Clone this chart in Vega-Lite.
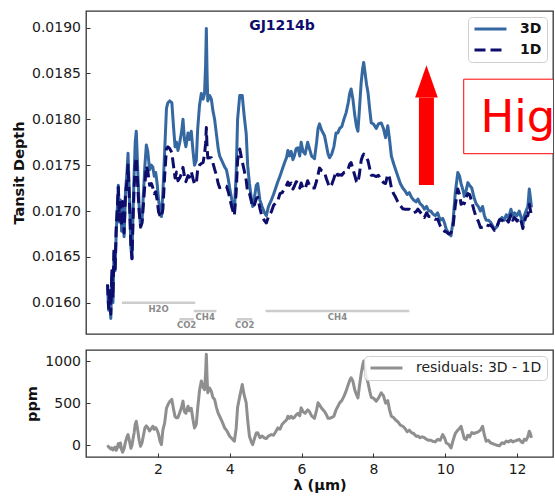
{
  "$schema": "https://vega.github.io/schema/vega-lite/v6.json",
  "background": "white",
  "padding": {"left": 10, "top": 10, "right": 0, "bottom": 4},
  "config": {
    "font": "DejaVu Sans",
    "view": {"stroke": "#333333", "strokeWidth": 1.3},
    "axis": {
      "domain": false,
      "grid": false,
      "ticks": true,
      "tickSize": -4,
      "tickWidth": 1,
      "tickColor": "#333333",
      "labelFont": "DejaVu Sans",
      "labelFontSize": 14,
      "labelColor": "#1a1a1a",
      "labelPadding": 9.5,
      "titleFont": "DejaVu Sans",
      "titleFontSize": 14.5,
      "titleFontWeight": "bold",
      "titleColor": "#111111",
      "titlePadding": 5
    },
    "legend": {
      "orient": "top-right",
      "offset": 6,
      "padding": 5,
      "fillColor": "rgba(255,255,255,0.85)",
      "strokeColor": "#cfcfcf",
      "cornerRadius": 4,
      "symbolType": "stroke",
      "symbolSize": 1024,
      "symbolStrokeWidth": 3,
      "labelOffset": 12,
      "labelFont": "DejaVu Sans",
      "labelFontSize": 14,
      "labelColor": "#111111",
      "clipHeight": 14,
      "rowPadding": 7,
      "title": null
    }
  },
  "datasets": {
    "spectra": [
      {"wl": 0.60, "td3d": 0.016200, "td1d": 0.016200, "res": 0},
      {"wl": 0.63, "td3d": 0.015920, "td1d": 0.015940, "res": -20},
      {"wl": 0.66, "td3d": 0.016120, "td1d": 0.016150, "res": -30},
      {"wl": 0.69, "td3d": 0.015830, "td1d": 0.015875, "res": -45},
      {"wl": 0.72, "td3d": 0.016320, "td1d": 0.016350, "res": -30},
      {"wl": 0.75, "td3d": 0.016000, "td1d": 0.016055, "res": -55},
      {"wl": 0.78, "td3d": 0.016550, "td1d": 0.016590, "res": -40},
      {"wl": 0.81, "td3d": 0.016350, "td1d": 0.016370, "res": -20},
      {"wl": 0.84, "td3d": 0.016750, "td1d": 0.016810, "res": -60},
      {"wl": 0.87, "td3d": 0.017000, "td1d": 0.017030, "res": -30},
      {"wl": 0.90, "td3d": 0.017280, "td1d": 0.017260, "res": 20},
      {"wl": 0.93, "td3d": 0.016880, "td1d": 0.016900, "res": -20},
      {"wl": 0.96, "td3d": 0.017120, "td1d": 0.017093, "res": 27},
      {"wl": 0.99, "td3d": 0.016780, "td1d": 0.016830, "res": -50},
      {"wl": 1.02, "td3d": 0.017020, "td1d": 0.017103, "res": -83},
      {"wl": 1.06, "td3d": 0.016720, "td1d": 0.016760, "res": -40},
      {"wl": 1.10, "td3d": 0.017220, "td1d": 0.017180, "res": 40},
      {"wl": 1.14, "td3d": 0.017420, "td1d": 0.017320, "res": 100},
      {"wl": 1.17, "td3d": 0.017630, "td1d": 0.017503, "res": 127},
      {"wl": 1.21, "td3d": 0.017150, "td1d": 0.017100, "res": 50},
      {"wl": 1.25, "td3d": 0.016600, "td1d": 0.016636, "res": -36},
      {"wl": 1.28, "td3d": 0.016480, "td1d": 0.016480, "res": 0},
      {"wl": 1.31, "td3d": 0.017000, "td1d": 0.016920, "res": 80},
      {"wl": 1.34, "td3d": 0.017400, "td1d": 0.017250, "res": 150},
      {"wl": 1.37, "td3d": 0.017750, "td1d": 0.017500, "res": 250},
      {"wl": 1.40, "td3d": 0.017870, "td1d": 0.017584, "res": 286},
      {"wl": 1.44, "td3d": 0.017450, "td1d": 0.017270, "res": 180},
      {"wl": 1.48, "td3d": 0.017050, "td1d": 0.016990, "res": 60},
      {"wl": 1.52, "td3d": 0.016820, "td1d": 0.016832, "res": -12},
      {"wl": 1.56, "td3d": 0.016900, "td1d": 0.016870, "res": 30},
      {"wl": 1.60, "td3d": 0.017200, "td1d": 0.017080, "res": 120},
      {"wl": 1.64, "td3d": 0.017500, "td1d": 0.017294, "res": 206},
      {"wl": 1.68, "td3d": 0.017720, "td1d": 0.017490, "res": 230},
      {"wl": 1.72, "td3d": 0.017650, "td1d": 0.017440, "res": 210},
      {"wl": 1.77, "td3d": 0.017450, "td1d": 0.017280, "res": 170},
      {"wl": 1.82, "td3d": 0.017500, "td1d": 0.017300, "res": 200},
      {"wl": 1.86, "td3d": 0.017480, "td1d": 0.017254, "res": 226},
      {"wl": 1.90, "td3d": 0.017380, "td1d": 0.017190, "res": 190},
      {"wl": 1.94, "td3d": 0.017420, "td1d": 0.017210, "res": 210},
      {"wl": 1.98, "td3d": 0.017300, "td1d": 0.017120, "res": 180},
      {"wl": 2.02, "td3d": 0.017120, "td1d": 0.016990, "res": 130},
      {"wl": 2.06, "td3d": 0.017000, "td1d": 0.016950, "res": 50},
      {"wl": 2.10, "td3d": 0.016940, "td1d": 0.016932, "res": 8},
      {"wl": 2.14, "td3d": 0.017200, "td1d": 0.017020, "res": 180},
      {"wl": 2.19, "td3d": 0.017650, "td1d": 0.017384, "res": 266},
      {"wl": 2.24, "td3d": 0.018120, "td1d": 0.017680, "res": 440},
      {"wl": 2.28, "td3d": 0.018180, "td1d": 0.017700, "res": 480},
      {"wl": 2.33, "td3d": 0.018200, "td1d": 0.017680, "res": 520},
      {"wl": 2.39, "td3d": 0.018180, "td1d": 0.017636, "res": 544},
      {"wl": 2.44, "td3d": 0.017900, "td1d": 0.017480, "res": 420},
      {"wl": 2.48, "td3d": 0.017700, "td1d": 0.017360, "res": 340},
      {"wl": 2.52, "td3d": 0.017750, "td1d": 0.017425, "res": 325},
      {"wl": 2.56, "td3d": 0.017660, "td1d": 0.017330, "res": 330},
      {"wl": 2.61, "td3d": 0.017750, "td1d": 0.017360, "res": 390},
      {"wl": 2.66, "td3d": 0.017860, "td1d": 0.017410, "res": 450},
      {"wl": 2.70, "td3d": 0.018000, "td1d": 0.017476, "res": 524},
      {"wl": 2.74, "td3d": 0.017780, "td1d": 0.017380, "res": 400},
      {"wl": 2.78, "td3d": 0.017700, "td1d": 0.017320, "res": 380},
      {"wl": 2.84, "td3d": 0.017850, "td1d": 0.017386, "res": 464},
      {"wl": 2.88, "td3d": 0.017780, "td1d": 0.017370, "res": 410},
      {"wl": 2.93, "td3d": 0.017870, "td1d": 0.017430, "res": 440},
      {"wl": 2.98, "td3d": 0.017650, "td1d": 0.017350, "res": 300},
      {"wl": 3.02, "td3d": 0.017500, "td1d": 0.017294, "res": 206},
      {"wl": 3.07, "td3d": 0.017550, "td1d": 0.017300, "res": 250},
      {"wl": 3.11, "td3d": 0.017900, "td1d": 0.017456, "res": 444},
      {"wl": 3.16, "td3d": 0.018150, "td1d": 0.017500, "res": 650},
      {"wl": 3.21, "td3d": 0.018280, "td1d": 0.017518, "res": 762},
      {"wl": 3.26, "td3d": 0.018220, "td1d": 0.017530, "res": 690},
      {"wl": 3.30, "td3d": 0.018280, "td1d": 0.017620, "res": 660},
      {"wl": 3.33, "td3d": 0.018600, "td1d": 0.017740, "res": 860},
      {"wl": 3.35, "td3d": 0.018990, "td1d": 0.017910, "res": 1080},
      {"wl": 3.37, "td3d": 0.018500, "td1d": 0.017700, "res": 800},
      {"wl": 3.39, "td3d": 0.018200, "td1d": 0.017577, "res": 623},
      {"wl": 3.44, "td3d": 0.018260, "td1d": 0.017580, "res": 680},
      {"wl": 3.49, "td3d": 0.018220, "td1d": 0.017580, "res": 640},
      {"wl": 3.53, "td3d": 0.018100, "td1d": 0.017530, "res": 570},
      {"wl": 3.58, "td3d": 0.018000, "td1d": 0.017456, "res": 544},
      {"wl": 3.63, "td3d": 0.017840, "td1d": 0.017390, "res": 450},
      {"wl": 3.68, "td3d": 0.017680, "td1d": 0.017300, "res": 380},
      {"wl": 3.72, "td3d": 0.017600, "td1d": 0.017255, "res": 345},
      {"wl": 3.78, "td3d": 0.017550, "td1d": 0.017260, "res": 290},
      {"wl": 3.86, "td3d": 0.017480, "td1d": 0.017274, "res": 206},
      {"wl": 3.91, "td3d": 0.017450, "td1d": 0.017270, "res": 180},
      {"wl": 3.96, "td3d": 0.017350, "td1d": 0.017210, "res": 140},
      {"wl": 4.00, "td3d": 0.017250, "td1d": 0.017143, "res": 107},
      {"wl": 4.06, "td3d": 0.017120, "td1d": 0.017040, "res": 80},
      {"wl": 4.13, "td3d": 0.017000, "td1d": 0.016952, "res": 48},
      {"wl": 4.18, "td3d": 0.017400, "td1d": 0.017200, "res": 200},
      {"wl": 4.22, "td3d": 0.018000, "td1d": 0.017550, "res": 450},
      {"wl": 4.28, "td3d": 0.018260, "td1d": 0.017677, "res": 583},
      {"wl": 4.35, "td3d": 0.018260, "td1d": 0.017538, "res": 722},
      {"wl": 4.40, "td3d": 0.018050, "td1d": 0.017450, "res": 600},
      {"wl": 4.46, "td3d": 0.017840, "td1d": 0.017336, "res": 504},
      {"wl": 4.50, "td3d": 0.017500, "td1d": 0.017200, "res": 300},
      {"wl": 4.55, "td3d": 0.017300, "td1d": 0.017193, "res": 107},
      {"wl": 4.60, "td3d": 0.017150, "td1d": 0.017110, "res": 40},
      {"wl": 4.64, "td3d": 0.017050, "td1d": 0.017042, "res": 8},
      {"wl": 4.69, "td3d": 0.017150, "td1d": 0.017070, "res": 80},
      {"wl": 4.74, "td3d": 0.017280, "td1d": 0.017133, "res": 147},
      {"wl": 4.78, "td3d": 0.017300, "td1d": 0.017150, "res": 150},
      {"wl": 4.84, "td3d": 0.017120, "td1d": 0.017030, "res": 90},
      {"wl": 4.90, "td3d": 0.017050, "td1d": 0.016940, "res": 110},
      {"wl": 4.97, "td3d": 0.016980, "td1d": 0.016893, "res": 87},
      {"wl": 5.02, "td3d": 0.016950, "td1d": 0.016870, "res": 80},
      {"wl": 5.08, "td3d": 0.017050, "td1d": 0.016940, "res": 110},
      {"wl": 5.16, "td3d": 0.017120, "td1d": 0.016993, "res": 127},
      {"wl": 5.22, "td3d": 0.017180, "td1d": 0.017060, "res": 120},
      {"wl": 5.28, "td3d": 0.017250, "td1d": 0.017090, "res": 160},
      {"wl": 5.34, "td3d": 0.017320, "td1d": 0.017114, "res": 206},
      {"wl": 5.40, "td3d": 0.017380, "td1d": 0.017190, "res": 190},
      {"wl": 5.46, "td3d": 0.017450, "td1d": 0.017200, "res": 250},
      {"wl": 5.53, "td3d": 0.017530, "td1d": 0.017250, "res": 280},
      {"wl": 5.58, "td3d": 0.017580, "td1d": 0.017280, "res": 300},
      {"wl": 5.62, "td3d": 0.017660, "td1d": 0.017315, "res": 345},
      {"wl": 5.66, "td3d": 0.017600, "td1d": 0.017280, "res": 320},
      {"wl": 5.71, "td3d": 0.017650, "td1d": 0.017305, "res": 345},
      {"wl": 5.76, "td3d": 0.017560, "td1d": 0.017240, "res": 320},
      {"wl": 5.80, "td3d": 0.017600, "td1d": 0.017270, "res": 330},
      {"wl": 5.85, "td3d": 0.017680, "td1d": 0.017320, "res": 360},
      {"wl": 5.90, "td3d": 0.017690, "td1d": 0.017310, "res": 380},
      {"wl": 5.95, "td3d": 0.017600, "td1d": 0.017250, "res": 350},
      {"wl": 5.99, "td3d": 0.017750, "td1d": 0.017306, "res": 444},
      {"wl": 6.04, "td3d": 0.017650, "td1d": 0.017250, "res": 400},
      {"wl": 6.10, "td3d": 0.017620, "td1d": 0.017240, "res": 380},
      {"wl": 6.17, "td3d": 0.017750, "td1d": 0.017330, "res": 420},
      {"wl": 6.22, "td3d": 0.017680, "td1d": 0.017280, "res": 400},
      {"wl": 6.28, "td3d": 0.017600, "td1d": 0.017250, "res": 350},
      {"wl": 6.36, "td3d": 0.017570, "td1d": 0.017250, "res": 320},
      {"wl": 6.42, "td3d": 0.017750, "td1d": 0.017330, "res": 420},
      {"wl": 6.46, "td3d": 0.017900, "td1d": 0.017396, "res": 504},
      {"wl": 6.50, "td3d": 0.017950, "td1d": 0.017470, "res": 480},
      {"wl": 6.56, "td3d": 0.017880, "td1d": 0.017440, "res": 440},
      {"wl": 6.64, "td3d": 0.017820, "td1d": 0.017420, "res": 400},
      {"wl": 6.69, "td3d": 0.017720, "td1d": 0.017355, "res": 365},
      {"wl": 6.74, "td3d": 0.017620, "td1d": 0.017300, "res": 320},
      {"wl": 6.78, "td3d": 0.017580, "td1d": 0.017260, "res": 320},
      {"wl": 6.84, "td3d": 0.017620, "td1d": 0.017290, "res": 330},
      {"wl": 6.90, "td3d": 0.017700, "td1d": 0.017355, "res": 345},
      {"wl": 6.96, "td3d": 0.017850, "td1d": 0.017430, "res": 420},
      {"wl": 7.01, "td3d": 0.017850, "td1d": 0.017390, "res": 460},
      {"wl": 7.06, "td3d": 0.017900, "td1d": 0.017396, "res": 504},
      {"wl": 7.12, "td3d": 0.017920, "td1d": 0.017390, "res": 530},
      {"wl": 7.18, "td3d": 0.018000, "td1d": 0.017420, "res": 580},
      {"wl": 7.24, "td3d": 0.018070, "td1d": 0.017427, "res": 643},
      {"wl": 7.30, "td3d": 0.018180, "td1d": 0.017460, "res": 720},
      {"wl": 7.34, "td3d": 0.018280, "td1d": 0.017510, "res": 770},
      {"wl": 7.38, "td3d": 0.018330, "td1d": 0.017528, "res": 802},
      {"wl": 7.43, "td3d": 0.018220, "td1d": 0.017460, "res": 760},
      {"wl": 7.48, "td3d": 0.018050, "td1d": 0.017390, "res": 660},
      {"wl": 7.53, "td3d": 0.017920, "td1d": 0.017320, "res": 600},
      {"wl": 7.57, "td3d": 0.017870, "td1d": 0.017307, "res": 563},
      {"wl": 7.61, "td3d": 0.018100, "td1d": 0.017400, "res": 700},
      {"wl": 7.66, "td3d": 0.018400, "td1d": 0.017550, "res": 850},
      {"wl": 7.70, "td3d": 0.018550, "td1d": 0.017600, "res": 950},
      {"wl": 7.73, "td3d": 0.018620, "td1d": 0.017620, "res": 1000},
      {"wl": 7.77, "td3d": 0.018500, "td1d": 0.017600, "res": 900},
      {"wl": 7.81, "td3d": 0.018380, "td1d": 0.017580, "res": 800},
      {"wl": 7.85, "td3d": 0.018290, "td1d": 0.017548, "res": 742},
      {"wl": 7.90, "td3d": 0.018100, "td1d": 0.017460, "res": 640},
      {"wl": 7.94, "td3d": 0.017960, "td1d": 0.017390, "res": 570},
      {"wl": 8.00, "td3d": 0.017950, "td1d": 0.017390, "res": 560},
      {"wl": 8.08, "td3d": 0.017900, "td1d": 0.017376, "res": 524},
      {"wl": 8.14, "td3d": 0.017950, "td1d": 0.017390, "res": 560},
      {"wl": 8.22, "td3d": 0.017960, "td1d": 0.017337, "res": 623},
      {"wl": 8.28, "td3d": 0.017900, "td1d": 0.017310, "res": 590},
      {"wl": 8.34, "td3d": 0.017800, "td1d": 0.017300, "res": 500},
      {"wl": 8.40, "td3d": 0.017930, "td1d": 0.017400, "res": 530},
      {"wl": 8.45, "td3d": 0.017780, "td1d": 0.017360, "res": 420},
      {"wl": 8.50, "td3d": 0.017600, "td1d": 0.017255, "res": 345},
      {"wl": 8.56, "td3d": 0.017520, "td1d": 0.017190, "res": 330},
      {"wl": 8.62, "td3d": 0.017450, "td1d": 0.017150, "res": 300},
      {"wl": 8.68, "td3d": 0.017380, "td1d": 0.017100, "res": 280},
      {"wl": 8.75, "td3d": 0.017300, "td1d": 0.017060, "res": 240},
      {"wl": 8.82, "td3d": 0.017250, "td1d": 0.017024, "res": 226},
      {"wl": 8.88, "td3d": 0.017220, "td1d": 0.017020, "res": 200},
      {"wl": 8.94, "td3d": 0.017180, "td1d": 0.017020, "res": 160},
      {"wl": 9.00, "td3d": 0.017200, "td1d": 0.017020, "res": 180},
      {"wl": 9.06, "td3d": 0.017150, "td1d": 0.017000, "res": 150},
      {"wl": 9.12, "td3d": 0.017120, "td1d": 0.016980, "res": 140},
      {"wl": 9.19, "td3d": 0.017100, "td1d": 0.016993, "res": 107},
      {"wl": 9.24, "td3d": 0.017130, "td1d": 0.017020, "res": 110},
      {"wl": 9.30, "td3d": 0.017080, "td1d": 0.016990, "res": 90},
      {"wl": 9.36, "td3d": 0.017060, "td1d": 0.016960, "res": 100},
      {"wl": 9.42, "td3d": 0.017020, "td1d": 0.016930, "res": 90},
      {"wl": 9.48, "td3d": 0.017050, "td1d": 0.016980, "res": 70},
      {"wl": 9.54, "td3d": 0.017000, "td1d": 0.016940, "res": 60},
      {"wl": 9.60, "td3d": 0.017000, "td1d": 0.016940, "res": 60},
      {"wl": 9.65, "td3d": 0.016970, "td1d": 0.016922, "res": 48},
      {"wl": 9.72, "td3d": 0.016950, "td1d": 0.016910, "res": 40},
      {"wl": 9.79, "td3d": 0.016980, "td1d": 0.016910, "res": 70},
      {"wl": 9.86, "td3d": 0.016900, "td1d": 0.016840, "res": 60},
      {"wl": 9.93, "td3d": 0.016920, "td1d": 0.016793, "res": 127},
      {"wl": 9.98, "td3d": 0.016870, "td1d": 0.016780, "res": 90},
      {"wl": 10.03, "td3d": 0.016800, "td1d": 0.016773, "res": 27},
      {"wl": 10.10, "td3d": 0.016760, "td1d": 0.016750, "res": 10},
      {"wl": 10.16, "td3d": 0.016730, "td1d": 0.016762, "res": -32},
      {"wl": 10.22, "td3d": 0.016900, "td1d": 0.016840, "res": 60},
      {"wl": 10.28, "td3d": 0.017200, "td1d": 0.017060, "res": 140},
      {"wl": 10.35, "td3d": 0.017420, "td1d": 0.017240, "res": 180},
      {"wl": 10.40, "td3d": 0.017380, "td1d": 0.017180, "res": 200},
      {"wl": 10.44, "td3d": 0.017300, "td1d": 0.017074, "res": 226},
      {"wl": 10.50, "td3d": 0.017220, "td1d": 0.017090, "res": 130},
      {"wl": 10.53, "td3d": 0.017160, "td1d": 0.017080, "res": 80},
      {"wl": 10.58, "td3d": 0.017220, "td1d": 0.017152, "res": 68},
      {"wl": 10.63, "td3d": 0.017310, "td1d": 0.017190, "res": 120},
      {"wl": 10.68, "td3d": 0.017280, "td1d": 0.017180, "res": 100},
      {"wl": 10.74, "td3d": 0.017250, "td1d": 0.017100, "res": 150},
      {"wl": 10.80, "td3d": 0.017150, "td1d": 0.017010, "res": 140},
      {"wl": 10.86, "td3d": 0.017080, "td1d": 0.016930, "res": 150},
      {"wl": 10.92, "td3d": 0.017050, "td1d": 0.016890, "res": 160},
      {"wl": 10.98, "td3d": 0.017000, "td1d": 0.016820, "res": 180},
      {"wl": 11.04, "td3d": 0.017050, "td1d": 0.016824, "res": 226},
      {"wl": 11.09, "td3d": 0.016950, "td1d": 0.016830, "res": 120},
      {"wl": 11.14, "td3d": 0.016900, "td1d": 0.016852, "res": 48},
      {"wl": 11.20, "td3d": 0.016900, "td1d": 0.016840, "res": 60},
      {"wl": 11.26, "td3d": 0.016880, "td1d": 0.016850, "res": 30},
      {"wl": 11.32, "td3d": 0.016840, "td1d": 0.016820, "res": 20},
      {"wl": 11.37, "td3d": 0.016800, "td1d": 0.016790, "res": 10},
      {"wl": 11.44, "td3d": 0.016830, "td1d": 0.016830, "res": 0},
      {"wl": 11.51, "td3d": 0.016900, "td1d": 0.016905, "res": -5},
      {"wl": 11.58, "td3d": 0.016930, "td1d": 0.016900, "res": 30},
      {"wl": 11.64, "td3d": 0.016900, "td1d": 0.016880, "res": 20},
      {"wl": 11.70, "td3d": 0.016960, "td1d": 0.016910, "res": 50},
      {"wl": 11.76, "td3d": 0.016920, "td1d": 0.016880, "res": 40},
      {"wl": 11.83, "td3d": 0.017020, "td1d": 0.016960, "res": 60},
      {"wl": 11.88, "td3d": 0.016940, "td1d": 0.016900, "res": 40},
      {"wl": 11.93, "td3d": 0.016980, "td1d": 0.016930, "res": 50},
      {"wl": 12.00, "td3d": 0.016950, "td1d": 0.016890, "res": 60},
      {"wl": 12.06, "td3d": 0.017000, "td1d": 0.016930, "res": 70},
      {"wl": 12.12, "td3d": 0.016920, "td1d": 0.016880, "res": 40},
      {"wl": 12.16, "td3d": 0.016840, "td1d": 0.016810, "res": 30},
      {"wl": 12.20, "td3d": 0.016950, "td1d": 0.016879, "res": 71},
      {"wl": 12.25, "td3d": 0.017000, "td1d": 0.016940, "res": 60},
      {"wl": 12.30, "td3d": 0.017050, "td1d": 0.016950, "res": 100},
      {"wl": 12.34, "td3d": 0.017240, "td1d": 0.017073, "res": 167},
      {"wl": 12.37, "td3d": 0.017150, "td1d": 0.017010, "res": 140},
      {"wl": 12.40, "td3d": 0.017040, "td1d": 0.016953, "res": 87}
    ],
    "bands": [
      {"mol": "H2O", "x0": 1.0, "x1": 3.04, "mid": 2.02, "level": 0.01600},
      {"mol": "CO2", "x0": 2.6, "x1": 3.0, "mid": 2.8, "level": 0.01582},
      {"mol": "CH4", "x0": 3.0, "x1": 3.63, "mid": 3.32, "level": 0.01591},
      {"mol": "CO2", "x0": 4.2, "x1": 4.63, "mid": 4.42, "level": 0.01582},
      {"mol": "CH4", "x0": 5.0, "x1": 9.0, "mid": 7.0, "level": 0.01591}
    ],
    "arrow": [
      {"wl": 9.477, "base": 0.017284, "neck": 0.018236, "head": 0.018413}
    ],
    "note": [
      {"x0": 10.515, "x1": 14.0, "lo": 0.017625, "hi": 0.018437, "tx": 10.98, "ty": 0.017865, "label": "Higher"}
    ],
    "planet": [
      {"wl": 5.456, "td": 0.019018, "name": "GJ1214b"}
    ]
  },
  "bounds": "flush",
  "spacing": 16,
  "resolve": {
    "scale": {"color": "independent", "strokeDash": "independent"},
    "legend": {"color": "independent", "strokeDash": "independent"}
  },
  "vconcat": [
    {
      "width": 467,
      "height": 323,
      "layer": [
        {
          "data": {"name": "bands"},
          "mark": {"type": "rule", "color": "#cccccc", "strokeWidth": 2.5},
          "encoding": {
            "x": {"field": "x0", "type": "quantitative", "scale": {"domain": [0, 13], "nice": false}, "axis": null},
            "x2": {"field": "x1"},
            "y": {
              "field": "level", "type": "quantitative", "title": "Tansit Depth",
              "scale": {"domain": [0.01566, 0.01918], "nice": false, "zero": false},
              "axis": {"values": [0.016, 0.0165, 0.017, 0.0175, 0.018, 0.0185, 0.019], "format": ".4f", "title": "Tansit Depth"}
            }
          }
        },
        {
          "data": {"name": "bands"},
          "mark": {"type": "text", "fontSize": 8.5, "fontWeight": "bold", "color": "#8a8a8a", "baseline": "middle", "dy": 6},
          "encoding": {
            "x": {"field": "mid", "type": "quantitative"},
            "y": {"field": "level", "type": "quantitative", "title": "Tansit Depth"},
            "text": {"field": "mol"}
          }
        },
        {
          "data": {"name": "spectra"},
          "mark": {"type": "line", "strokeWidth": 3, "strokeJoin": "round"},
          "encoding": {
            "x": {"field": "wl", "type": "quantitative"},
            "y": {"field": "td3d", "type": "quantitative", "title": "Tansit Depth"},
            "color": {
              "datum": "3D", "type": "nominal",
              "scale": {"domain": ["3D", "1D"], "range": ["#3567a0", "#0d0d6b"]},
              "legend": {"labelFontWeight": "bold", "offset": 6}
            },
            "strokeDash": {
              "datum": "3D", "type": "nominal",
              "scale": {"domain": ["3D", "1D"], "range": [[1, 0], [11, 5]]},
              "legend": {"labelFontWeight": "bold", "offset": 6}
            }
          }
        },
        {
          "data": {"name": "spectra"},
          "mark": {"type": "line", "strokeWidth": 3, "strokeJoin": "round"},
          "encoding": {
            "x": {"field": "wl", "type": "quantitative"},
            "y": {"field": "td1d", "type": "quantitative", "title": "Tansit Depth"},
            "color": {"datum": "1D", "type": "nominal"},
            "strokeDash": {"datum": "1D", "type": "nominal"}
          }
        },
        {
          "data": {"name": "arrow"},
          "mark": {"type": "rule", "color": "#ff0000", "strokeWidth": 15, "strokeCap": "butt"},
          "encoding": {
            "x": {"field": "wl", "type": "quantitative"},
            "y": {"field": "base", "type": "quantitative", "title": "Tansit Depth"},
            "y2": {"field": "neck"}
          }
        },
        {
          "data": {"name": "arrow"},
          "mark": {"type": "point", "shape": "M0,-1L0.7,1L-0.7,1Z", "filled": true, "color": "#ff0000", "opacity": 1, "size": 1050, "strokeWidth": 0},
          "encoding": {
            "x": {"field": "wl", "type": "quantitative"},
            "y": {"field": "head", "type": "quantitative", "title": "Tansit Depth"}
          }
        },
        {
          "data": {"name": "note"},
          "mark": {"type": "rect", "fill": "#ffffff", "stroke": "#ff0000", "strokeWidth": 1, "clip": true},
          "encoding": {
            "x": {"field": "x0", "type": "quantitative"},
            "x2": {"field": "x1"},
            "y": {"field": "lo", "type": "quantitative", "title": "Tansit Depth"},
            "y2": {"field": "hi"}
          }
        },
        {
          "data": {"name": "note"},
          "mark": {"type": "text", "align": "left", "baseline": "alphabetic", "fontSize": 45, "color": "#ff0000", "clip": true},
          "encoding": {
            "x": {"field": "tx", "type": "quantitative"},
            "y": {"field": "ty", "type": "quantitative", "title": "Tansit Depth"},
            "text": {"field": "label"}
          }
        },
        {
          "data": {"name": "planet"},
          "mark": {"type": "text", "fontSize": 14, "fontWeight": "bold", "color": "#0d0d6b", "baseline": "middle", "align": "center"},
          "encoding": {
            "x": {"field": "wl", "type": "quantitative"},
            "y": {"field": "td", "type": "quantitative", "title": "Tansit Depth"},
            "text": {"field": "name"}
          }
        }
      ]
    },
    {
      "width": 467,
      "height": 107,
      "data": {"name": "spectra"},
      "mark": {"type": "line", "strokeWidth": 3, "strokeJoin": "round"},
      "encoding": {
        "x": {
          "field": "wl", "type": "quantitative",
          "scale": {"domain": [0, 13], "nice": false},
          "axis": {"values": [2, 4, 6, 8, 10, 12], "format": "d", "title": "λ (μm)", "labelPadding": 9, "titlePadding": 2}
        },
        "y": {
          "field": "res", "type": "quantitative",
          "scale": {"domain": [-139, 1131], "nice": false, "zero": false},
          "axis": {"values": [0, 500, 1000], "format": "d", "title": "ppm"}
        },
        "color": {
          "datum": "residuals: 3D - 1D", "type": "nominal",
          "scale": {"range": ["#8f8f8f"]},
          "legend": {"labelFontWeight": "normal", "labelColor": "#222222", "offset": 6}
        }
      }
    }
  ]
}
